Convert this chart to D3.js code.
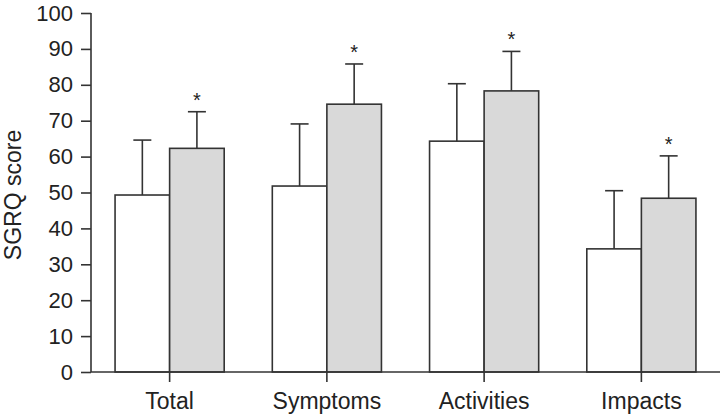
<!DOCTYPE html>
<html><head><meta charset="utf-8">
<script src="https://cdn.jsdelivr.net/npm/d3@7/dist/d3.min.js"></script>
<style>body{margin:0;background:#fff}svg{display:block;font-family:"Liberation Sans",Arial,sans-serif}</style>
</head><body><svg id="c" width="720" height="417"></svg>
<script>
const categories = ["Total", "Symptoms", "Activities", "Impacts"];
const groups = ["A", "B"];
const meansA = [49.3, 51.8, 64.3, 34.3];
const sdA = [15.3, 17.3, 16.0, 16.2];
const meansB = [62.3, 74.6, 78.3, 48.4];
const sdB = [10.2, 11.2, 11.0, 11.8];
const significant = [true, true, true, true];
const yTicks = [0,10,20,30,40,50,60,70,80,90,100];

const svg = d3.select("#c");
const stroke = "#333";
const font = "Liberation Sans, Arial, sans-serif";
const x0 = d3.scaleBand().domain(categories).range([91, 720]).padding(0);
const bw = x0.bandwidth();
const x1 = d3.scaleBand().domain(groups).range([bw*0.153, bw*0.847]).padding(0);
const y = d3.scaleLinear().domain([0,100]).range([372, 13]);

const rows = [];
categories.forEach((c,i)=>{
  rows.push({c, g:"A", m:meansA[i], sd:sdA[i], sig:false});
  rows.push({c, g:"B", m:meansB[i], sd:sdB[i], sig:significant[i]});
});

const fills = {A:"#ffffff", B:"#d9d9d9"};
svg.append("g").selectAll("rect").data(rows).join("rect")
  .attr("x", d=>x0(d.c)+x1(d.g))
  .attr("y", d=>y(d.m))
  .attr("width", x1.bandwidth())
  .attr("height", d=>y(0)-y(d.m))
  .attr("fill", d=>fills[d.g])
  .attr("stroke", stroke).attr("stroke-width", 1.6);

const eb = svg.append("g").attr("stroke", stroke).attr("stroke-width", 1.6);
rows.forEach(d=>{
  const cx = x0(d.c)+x1(d.g)+x1.bandwidth()/2;
  eb.append("line").attr("x1",cx).attr("x2",cx).attr("y1",y(d.m)).attr("y2",y(d.m+d.sd));
  eb.append("line").attr("x1",cx-9).attr("x2",cx+9).attr("y1",y(d.m+d.sd)).attr("y2",y(d.m+d.sd));
  if(d.sig){
    svg.append("text").attr("x",cx).attr("y",y(d.m+d.sd)-5).attr("text-anchor","middle")
      .attr("font-size",20).attr("fill","#222").attr("font-family",font).text("*");
  }
});

// y axis
const ya = svg.append("g").attr("transform","translate(91,0)")
  .call(d3.axisLeft(y).tickValues(yTicks).tickSize(10).tickPadding(8));
ya.select(".domain").attr("stroke",stroke).attr("stroke-width",1.6).attr("d","M0,"+y(100)+"V"+y(0));
ya.selectAll(".tick line").attr("stroke",stroke).attr("stroke-width",1.6);
ya.selectAll(".tick text").attr("font-size",22).attr("fill","#222").attr("font-family",font);

// x axis
const xa = svg.append("g").attr("transform","translate(0,372)")
  .call(d3.axisBottom(x0).tickSize(10).tickPadding(0));
xa.select(".domain").attr("stroke",stroke).attr("stroke-width",1.6).attr("d","M91,0H720");
xa.selectAll(".tick line").attr("stroke",stroke).attr("stroke-width",1.6);
xa.selectAll(".tick text").attr("font-size",23).attr("fill","#222").attr("font-family",font)
  .attr("dy",null).attr("y",37);

svg.append("text").attr("transform","translate(21,195) rotate(-90)").attr("text-anchor","middle")
  .attr("font-size",23).attr("fill","#222").attr("font-family",font).text("SGRQ score");
</script></body></html>
